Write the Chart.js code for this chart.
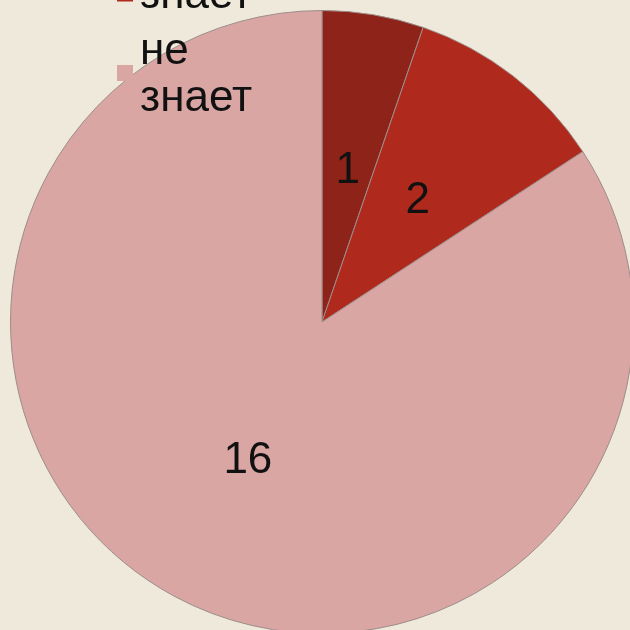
<!DOCTYPE html>
<html>
<head>
<meta charset="utf-8">
<script src="https://cdn.jsdelivr.net/npm/chart.js@4"></script>
<style>
  html, body { margin: 0; padding: 0; overflow: hidden; background: #efe9dc; }
  #wrap { position: absolute; left: 0; top: 0; width: 644px; height: 644px; }
</style>
</head>
<body>
<div id="wrap"><canvas id="pie"></canvas></div>
<script>
    const labels = ['хорошо знает', 'знает', 'не знает'];
    const counts = [1, 2, 16];
    const sliceColors = ['#8e2419', '#b0291d', '#d9a6a4'];

    // legend drawn over the pie, wrapped like the original
    const legendOverlay = {
        id: 'legendOverlay',
        afterDraw(chart) {
            const ctx = chart.ctx;
            const lineH = 47;
            const gap = 9;
            ctx.save();
            ctx.font = '44px "Liberation Sans", Arial, sans-serif';
            ctx.textBaseline = 'alphabetic';
            ctx.fillStyle = '#111';
            // lay items out upward from the last one
            let bottom = 111;
            for (let i = labels.length - 1; i >= 0; i--) {
                const lines = wrapText(ctx, labels[i], 125);
                const top = bottom - lines.length * lineH;
                const mid = (top + bottom) / 2 + 9;
                ctx.fillStyle = sliceColors[i];
                ctx.fillRect(117, mid - 8, 16, 16);
                ctx.fillStyle = '#111';
                lines.forEach((ln, k) => {
                    ctx.fillText(ln, 140, top + (k + 1) * lineH);
                });
                bottom = top - gap;
            }
            ctx.restore();
        }
    };

    function wrapText(ctx, text, maxW) {
        const words = text.split(' ');
        const out = [];
        let cur = '';
        words.forEach(w => {
            const test = cur ? cur + ' ' + w : w;
            if (cur && ctx.measureText(test).width > maxW) {
                out.push(cur);
                cur = w;
            } else {
                cur = test;
            }
        });
        if (cur) out.push(cur);
        return out;
    }

    const valueLabels = {
        id: 'valueLabels',
        afterDatasetsDraw(chart) {
            const ctx = chart.ctx;
            const meta = chart.getDatasetMeta(0);
            ctx.save();
            ctx.font = '44px "Liberation Sans", Arial, sans-serif';
            ctx.fillStyle = '#111';
            ctx.textAlign = 'center';
            ctx.textBaseline = 'middle';
            meta.data.forEach((arc, i) => {
                const p = arc.tooltipPosition();
                ctx.fillText(String(counts[i]), p.x, p.y + 2);
            });
            ctx.restore();
        }
    };

    new Chart(document.getElementById('pie').getContext('2d'), {
        type: 'pie',
        data: {
            labels: labels,
            datasets: [{
                data: counts,
                backgroundColor: sliceColors,
                borderColor: '#9b8c88',
                borderWidth: 1
            }]
        },
        options: {
            responsive: true,
            maintainAspectRatio: false,
            animation: false,
            layout: { padding: 10 },
            plugins: {
                legend: { display: false },
                tooltip: { enabled: false }
            }
        },
        plugins: [valueLabels, legendOverlay]
    });
</script>
</body>
</html>
